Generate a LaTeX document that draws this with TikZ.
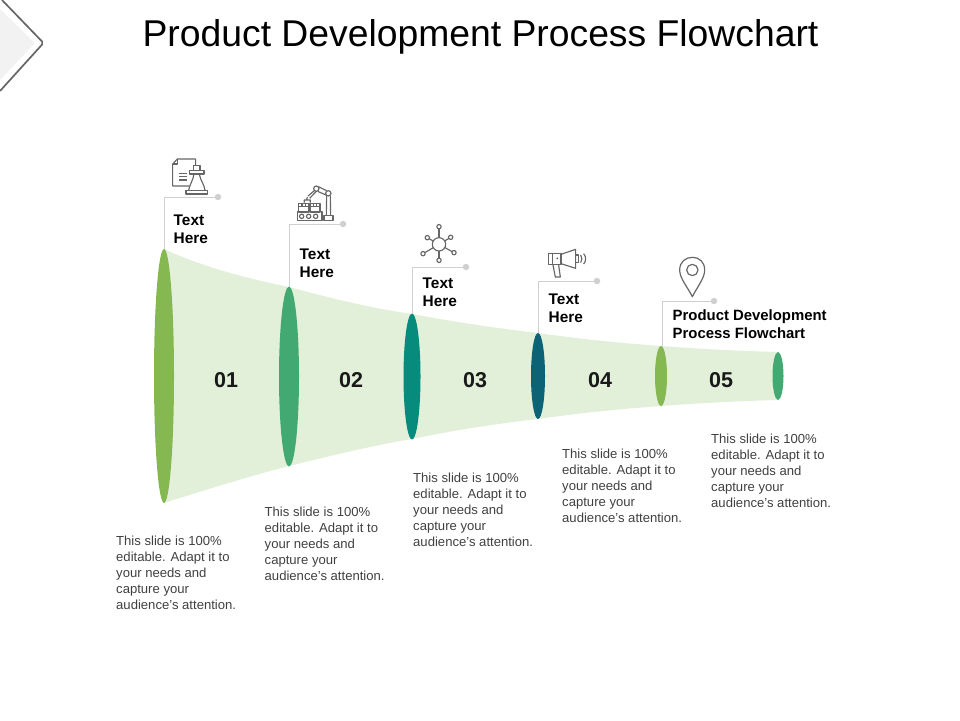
\documentclass[tikz,border=0pt]{standalone}
\usepackage{fontspec}
\setmainfont{Liberation Sans}
\usetikzlibrary{calc}
\definecolor{cfunnel}{HTML}{E2EFD9}
\definecolor{cgreen}{HTML}{86B851}
\definecolor{cmid}{HTML}{41A971}
\definecolor{cteal}{HTML}{068B7C}
\definecolor{cdeep}{HTML}{0C6375}
\definecolor{cleader}{HTML}{D0D0D0}
\definecolor{cicon}{HTML}{666666}
\definecolor{cbody}{HTML}{404040}
\tikzset{
 leader/.style={draw=cleader,line width=0.9pt},
 enddot/.style={circle,fill=cleader,inner sep=0pt,minimum size=6.5pt},
 headtext/.style={anchor=west,align=left,inner sep=0pt,text=black,font=\fontsize{15.4}{18}\selectfont\bfseries},
 headwide/.style={anchor=west,align=left,inner sep=0pt,text=black,font=\fontsize{14.9}{18}\selectfont\bfseries},
 bodytext/.style={anchor=north west,align=left,inner sep=0pt,text=cbody,font=\fontsize{13.1}{16}\selectfont},
 numtext/.style={inner sep=0pt,text=black!90,font=\fontsize{21.5}{24}\selectfont\bfseries},
 iconline/.style={draw=cicon,line width=1.15pt,line join=round,fill=none},
}
\begin{document}
\begin{tikzpicture}[x=1pt,y=-1pt]
\useasboundingbox (0,0) rectangle (960,720);
% corner tab
\fill[fill=black!5] (0,9) -- (35,43) -- (0,80) -- cycle;
\draw[draw=cicon,line width=1.7pt,line join=round,rounded corners=2pt] (2,0) -- (43.5,43) -- (0,91);
% title
\node[inner sep=0pt,text=black,font=\fontsize{37.3}{40}\selectfont] (title) at (480.5,36.5) {Product Development Process Flowchart};
% funnel
\fill[cfunnel] (164,249) .. controls (205,268) and (250,279) .. (289,287)
  .. controls (330,298) and (370,308) .. (412,314)
  .. controls (455,322) and (495,328) .. (538,333)
  .. controls (580,339) and (620,343) .. (661,346)
  .. controls (700,349) and (740,351) .. (778,352)
  -- (778,400)
  .. controls (740,401) and (700,403) .. (661,406)
  .. controls (620,409) and (580,413) .. (538,419)
  .. controls (495,424) and (455,430) .. (412,439)
  .. controls (370,446) and (330,456) .. (289,466)
  .. controls (250,476) and (205,490) .. (164,503) -- cycle;
% lens shapes
\coordinate (c1) at (164,376);
\coordinate (c2) at (289,376.5);
\coordinate (c3) at (412,376.5);
\coordinate (c4) at (538,376);
\coordinate (c5) at (661,376);
\coordinate (c6) at (778,376);
\fill[cgreen] (c1) ellipse [x radius=10,y radius=127];
\fill[cmid] (c2) ellipse [x radius=10,y radius=90];
\fill[cteal] (c3) ellipse [x radius=8.5,y radius=63];
\fill[cdeep] (c4) ellipse [x radius=7,y radius=43];
\fill[cgreen] (c5) ellipse [x radius=6,y radius=30];
\fill[cmid] (c6) ellipse [x radius=5.5,y radius=24];
% leaders
\coordinate (t1) at (164,249);
\coordinate (t2) at (289,287);
\coordinate (t3) at (412,314);
\coordinate (t4) at (538,333);
\coordinate (t5) at (662,346);
\node[enddot] (d1) at (218,197) {};
\node[enddot] (d2) at (343,224) {};
\node[enddot] (d3) at (466,267) {};
\node[enddot] (d4) at (597,281) {};
\node[enddot] (d5) at (714,301) {};
\draw[leader] (t1) |- (d1);
\draw[leader] (t2) |- (d2);
\draw[leader] (t3) |- (d3);
\draw[leader] (t4) |- (d4);
\draw[leader] (t5) |- (d5);
% numbers
\node[numtext] (n1) at (226,380) {01};
\node[numtext] (n2) at (351,380) {02};
\node[numtext] (n3) at (475,380) {03};
\node[numtext] (n4) at (600,380) {04};
\node[numtext] (n5) at (721,380) {05};
% heads
\node[headtext] (h1) at (173.5,229) {Text\\Here};
\node[headtext] (h2) at (299.5,263) {Text\\Here};
\node[headtext] (h3) at (422.5,292) {Text\\Here};
\node[headtext] (h4) at (548.5,308) {Text\\Here};
\node[headwide] (h5) at (672.5,324) {Product Development\\Process Flowchart};
% body
\newcommand{\bodycopy}{This slide is 100\%\\editable. Adapt it to\\your needs and\\capture your\\audience's attention.}
\node[bodytext] (b1) at (116,536) {\bodycopy};
\node[bodytext] (b2) at (264.5,507) {\bodycopy};
\node[bodytext] (b3) at (413,473) {\bodycopy};
\node[bodytext] (b4) at (562,449) {\bodycopy};
\node[bodytext] (b5) at (711,434) {\bodycopy};
% icon 1: document and chess piece
\begin{scope}[shift={(150,150)},x=0.3333pt,y=-0.3333pt]
\draw[iconline] (118,108) -- (68,108) -- (68,42) -- (82,27) -- (137,27) -- (137,45);
\draw[iconline] (82,27) -- (82,42) -- (68,42);
\draw[iconline,line width=0.8pt] (88,71) -- (110,71) (88,80) -- (110,80);
\draw[iconline,line width=1.4pt] (88,90) -- (110,90);
\draw[iconline] (108,121) rectangle (172,132);
\draw[iconline] (118,62) rectangle (162,72);
\draw[iconline] (130,47) rectangle (150,62);
\draw[iconline] (132,72) .. controls (130,90) and (118,105) .. (116,121);
\draw[iconline] (148,72) .. controls (150,90) and (164,105) .. (165,121);
\end{scope}
% icon 2: robot arm and conveyor
\begin{scope}[shift={(150,150)},x=0.3333pt,y=-0.3333pt]
\draw[iconline] (442,185) -- (442,212) -- (516,212) -- (516,185) -- cycle;
\foreach \cx in {455,476,497} \draw[iconline] (\cx,199) circle [radius=6.5];
\draw[iconline] (446,160) rectangle (476,186);
\draw[iconline] (480,160) rectangle (510,186);
\draw[iconline] (446,170) -- (476,170) (480,170) -- (510,170);
\draw[iconline] (456,160) -- (456,170) (466,160) -- (466,170) (490,160) -- (490,170) (500,160) -- (500,170);
\draw[iconline] (522,196) rectangle (549,212);
\draw[iconline] (529,196) -- (530,137) (542,196) -- (541,137);
\draw[iconline] (535,130) circle [radius=8];
\draw[iconline] (499,116) circle [radius=8];
\draw[iconline] (505,110) -- (530,122) (503,124) -- (528,135);
\draw[iconline] (493,122) -- (474,138) (499,124) -- (479,145);
\draw[iconline] (472,141) -- (470,150) (470,150) -- (463,150) -- (463,158) (470,150) -- (481,150) -- (481,158);
\end{scope}
% icon 3: hub
\begin{scope}[shift={(400,215)},x=0.3333pt,y=-0.3333pt]
\coordinate (hub) at (117,88);
\draw[iconline] (hub) circle [radius=20];
\foreach \px/\py in {117/35,82/68,152/67,69/116,162/113,117/136}{
  \draw[iconline] (\px,\py) circle [radius=6.5];
  \draw[iconline] ($(hub)!6.7pt!(\px,\py)$) -- ($(\px,\py)!2.2pt!(hub)$);
}
\end{scope}
% icon 4: megaphone
\begin{scope}[shift={(400,215)},x=0.3333pt,y=-0.3333pt]
\draw[iconline] (446,116) rectangle (483,148);
\draw[iconline] (483,118) -- (527,103) -- (527,160) -- (483,146);
\draw[iconline] (458,116) -- (458,148);
\draw[iconline] (459,150) -- (466,186) -- (481,186) -- (476,150);
\draw[iconline] (527,120) -- (535,120) -- (535,143) -- (527,143);
\draw[iconline] (542,120) .. controls (547,126) and (547,137) .. (542,143);
\draw[iconline] (551,116) .. controls (559,125) and (559,138) .. (551,147);
\fill[cicon] (472,130) circle [radius=3];
\end{scope}
% icon 5: map pin
\begin{scope}[shift={(650,250)},x=0.3333pt,y=-0.3333pt]
\draw[iconline,line width=1.2pt] (127,140) .. controls (112,110) and (89,85) .. (89,60)
  .. controls (89,36) and (106,22) .. (127,22)
  .. controls (148,22) and (164,36) .. (164,60)
  .. controls (164,85) and (142,110) .. (127,140) -- cycle;
\draw[iconline,line width=1.2pt] (127,60) circle [radius=17];
\end{scope}
\end{tikzpicture}
\end{document}
